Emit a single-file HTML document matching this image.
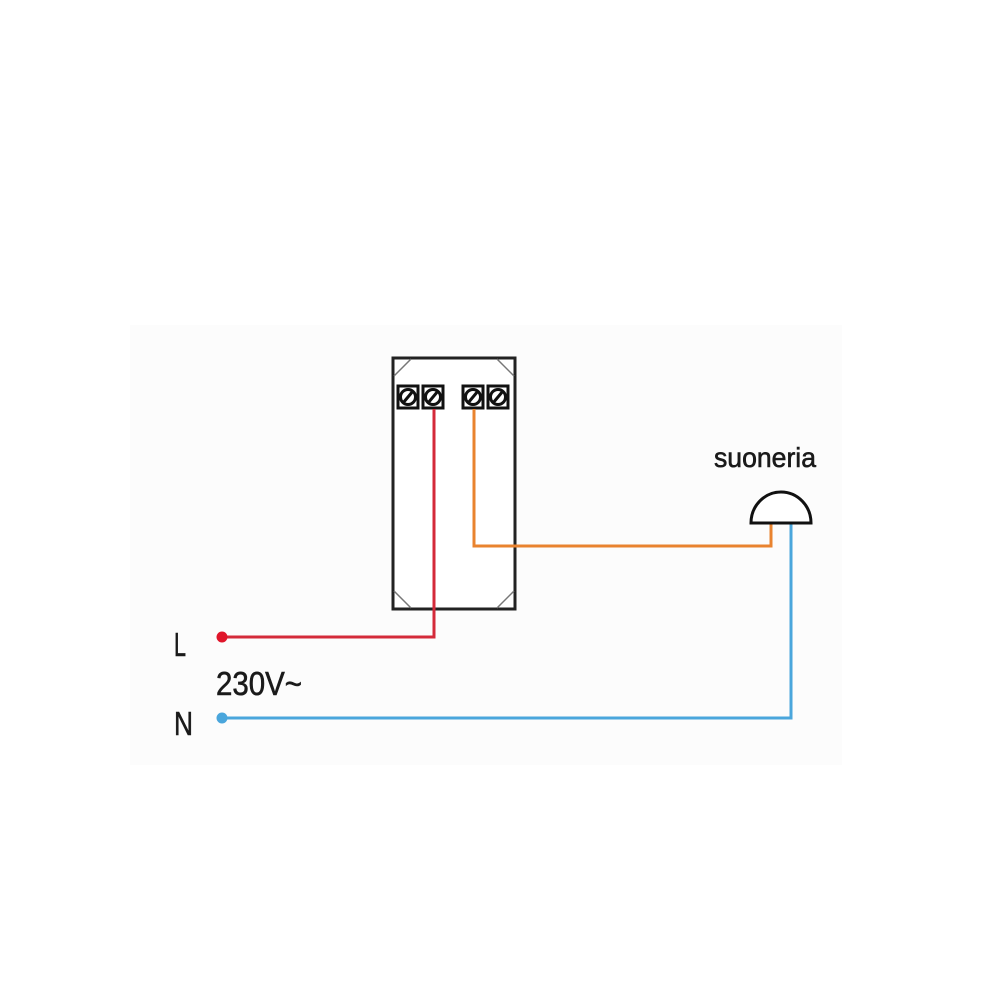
<!DOCTYPE html>
<html><head><style>body{margin:0;background:#fff}svg{display:block}</style></head><body>
<svg width="1000" height="1000" viewBox="0 0 1000 1000" xmlns="http://www.w3.org/2000/svg" font-family="Liberation Sans, sans-serif">
<rect width="1000" height="1000" fill="#fff"/>
<rect x="130" y="325" width="712" height="440" fill="#fcfcfc"/>
<!-- device box -->
<rect x="393" y="358" width="122" height="251" fill="#fff" stroke="#222" stroke-width="3"/>
<g stroke="#777" stroke-width="1.5">
<line x1="394" y1="376" x2="411" y2="359"/><line x1="497" y1="359" x2="514" y2="376"/>
<line x1="394" y1="591" x2="411" y2="608"/><line x1="497" y1="608" x2="514" y2="591"/>
</g>
<g stroke="#111" stroke-width="3" fill="#fff">
<rect x="398" y="386" width="20" height="22"/><rect x="423" y="386" width="20" height="22"/>
<rect x="463" y="386" width="20" height="22"/><rect x="488" y="386" width="20" height="22"/>
<circle cx="408" cy="397" r="7.5"/><circle cx="433" cy="397" r="7.5"/>
<circle cx="473" cy="397" r="7.5"/><circle cx="498" cy="397" r="7.5"/>
<line x1="403" y1="403" x2="413" y2="391"/><line x1="428" y1="403" x2="438" y2="391"/>
<line x1="468" y1="403" x2="478" y2="391"/><line x1="493" y1="403" x2="503" y2="391"/>
</g>
<!-- wires -->
<polyline points="434,409 434,637 222,637" fill="none" stroke="#d42a3a" stroke-width="3"/>
<circle cx="222" cy="637" r="5.5" fill="#e0152a"/>
<polyline points="474,409 474,546 771,546 771,524" fill="none" stroke="#e9832f" stroke-width="3"/>
<polyline points="791,524 791,718 222,718" fill="none" stroke="#4aa6dc" stroke-width="3"/>
<circle cx="222" cy="718" r="5.5" fill="#4aa6dc"/>
<!-- bell -->
<path d="M751,523 A30,31 0 0 1 811,523 Z" fill="#fff" stroke="#111" stroke-width="3"/>
<!-- text -->
<g fill="#1a1a1a" stroke="#1a1a1a" stroke-width="0.6">
<text x="714" y="467" font-size="28" textLength="102" lengthAdjust="spacingAndGlyphs">suoneria</text>
<text x="174" y="656" font-size="33" textLength="12" lengthAdjust="spacingAndGlyphs">L</text>
<text x="216" y="695" font-size="33" textLength="86" lengthAdjust="spacingAndGlyphs">230V~</text>
<text x="174" y="735" font-size="33" textLength="19" lengthAdjust="spacingAndGlyphs">N</text>
</g>
</svg>
</body></html>
